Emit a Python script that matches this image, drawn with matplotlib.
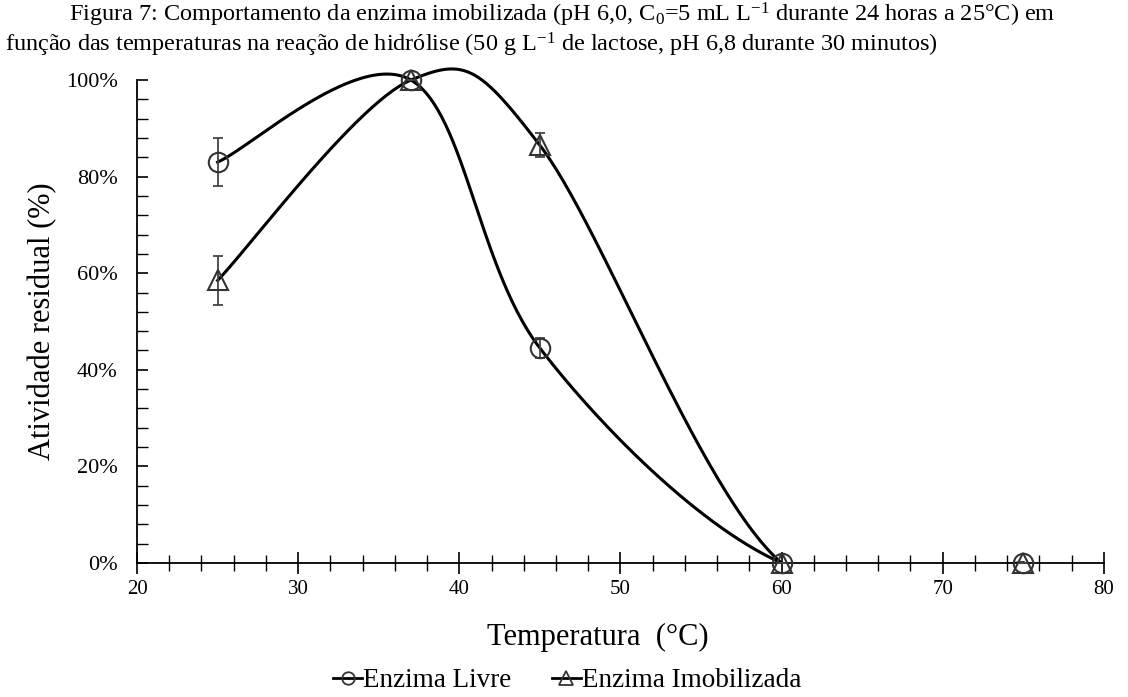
import numpy as np
import matplotlib
matplotlib.use("Agg")
import matplotlib.pyplot as plt
from matplotlib.patches import Rectangle
from matplotlib.ticker import MultipleLocator, FuncFormatter

plt.rcParams['font.family'] = ['Liberation Serif', 'DejaVu Serif']
plt.rcParams['mathtext.fontset'] = 'custom'
plt.rcParams['mathtext.rm'] = 'Liberation Serif'
plt.rcParams['mathtext.default'] = 'regular'

# Data
temperatura = [25, 37, 45, 60, 75]
livre = [0.83, 1.00, 0.445, 0.0, 0.0]
livre_err = [0.05, 0.0, 0.02, 0.0, 0.0]
imobilizada = [0.585, 1.00, 0.865, 0.0, 0.0]
imob_err = [0.05, 0.0, 0.025, 0.0, 0.0]
labels = ["Enzima Livre", "Enzima Imobilizada"]


def smooth(xs, ys, n=60):
    P = np.column_stack([xs, ys]).astype(float)
    P = np.vstack([P[0], P, P[-1]])
    out = []
    for i in range(1, len(P) - 2):
        p0, p1, p2, p3 = P[i - 1], P[i], P[i + 1], P[i + 2]
        c1 = p1 + (p2 - p0) / 6.0
        c2 = p2 - (p3 - p1) / 6.0
        t = np.linspace(0, 1, n)[:, None]
        seg = ((1 - t) ** 3) * p1 + 3 * ((1 - t) ** 2) * t * c1 + 3 * (1 - t) * t ** 2 * c2 + t ** 3 * p2
        out.append(seg)
    a = np.vstack(out)
    return a[:, 0], a[:, 1]


fig = plt.figure(figsize=(11.28, 6.97), dpi=100)
ax = fig.add_axes([0.1215, 0.1923, 0.857, 0.6929])

clip = Rectangle((0, 0), 1, 1.3, transform=ax.transAxes)
for ys, err, mk, lab in [(livre, livre_err, 'o', labels[0]), (imobilizada, imob_err, '^', labels[1])]:
    sx, sy = smooth(temperatura, ys)
    ln, = ax.plot(sx, sy, color='black', lw=2.2, zorder=3)
    ln.set_clip_path(clip)
    ax.errorbar(temperatura, ys, yerr=err, fmt='none', ecolor='#444444', elinewidth=1.3,
                capsize=3.8, capthick=1.3, zorder=4, clip_on=False)
    ax.plot(temperatura, ys, linestyle='none', marker=mk, markersize=14 if mk == 'o' else 15,
            markerfacecolor='none', markeredgecolor='#333333', markeredgewidth=1.5,
            zorder=5, clip_on=False)

# legend proxies
h1, = ax.plot([], [], color='black', lw=2, marker='o', markersize=9, markerfacecolor='none',
              markeredgecolor='#333333', markeredgewidth=1.3)
h2, = ax.plot([], [], color='black', lw=2, marker='^', markersize=10, markerfacecolor='none',
              markeredgecolor='#333333', markeredgewidth=1.3)
fig.legend([h1, h2], labels, loc='center', bbox_to_anchor=(0.503, 0.023), ncol=2, frameon=False,
           fontsize=19.5, handlelength=1.05, handletextpad=0.05, columnspacing=1.5)

ax.set_xlim(20, 80)
ax.set_ylim(0, 1.0)
ax.xaxis.set_major_locator(MultipleLocator(10))
ax.xaxis.set_minor_locator(MultipleLocator(2))
ax.yaxis.set_major_locator(MultipleLocator(0.2))
ax.yaxis.set_minor_locator(MultipleLocator(0.04))
ax.yaxis.set_major_formatter(FuncFormatter(lambda v, p: f"{v*100:.0f}%"))

for s in ['top', 'right']:
    ax.spines[s].set_visible(False)
for s in ['left', 'bottom']:
    ax.spines[s].set_linewidth(1.3)
    ax.spines[s].set_color('black')

ax.tick_params(axis='x', which='major', direction='inout', length=16, width=1.2, labelsize=15, pad=4)
ax.tick_params(axis='x', which='minor', direction='inout', length=11, width=1.0)
ax.tick_params(axis='y', which='major', direction='in', length=8, width=1.2, labelsize=16, pad=14)
ax.tick_params(axis='y', which='minor', direction='in', length=8, width=1.0)

ax.set_xlabel("Temperatura  (°C)", fontsize=22)
ax.xaxis.set_label_coords(0.477, -0.125)
ax.set_ylabel("Atividade residual (%)", fontsize=22, labelpad=6)

fig.text(0.498, 0.978, "Figura 7: Comportamento da enzima imobilizada (pH 6,0, C$_0$=5 mL L$^{-1}$ durante 24 horas a 25°C) em",
         ha='center', va='center', fontsize=17.5)
fig.text(0.004, 0.936, "função das temperaturas na reação de hidrólise (50 g L$^{-1}$ de lactose, pH 6,8 durante 30 minutos)",
         ha='left', va='center', fontsize=17.5)

fig.savefig("out.png", dpi=100)
